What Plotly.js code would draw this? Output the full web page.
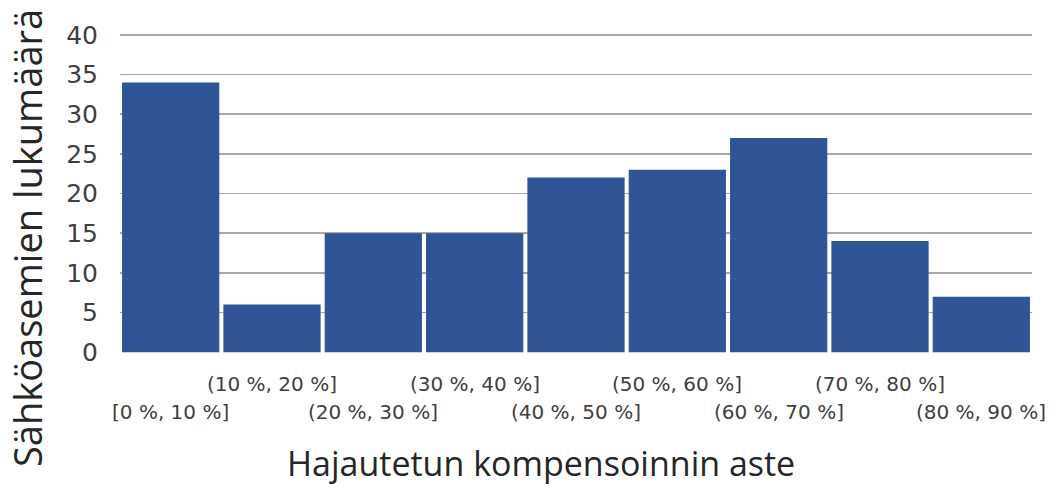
<!DOCTYPE html>
<html>
<head>
<meta charset="utf-8">
<script src="https://cdn.plot.ly/plotly-3.0.1.min.js"></script>
<style>
  html, body { margin: 0; padding: 0; background: #fff; }
  #chart { width: 1059px; height: 488px; }
</style>
</head>
<body>
<div id="chart"></div>
<script>
// Substation counts per degree of distributed compensation
const categories = ["[0 %, 10 %]", "(10 %, 20 %]", "(20 %, 30 %]", "(30 %, 40 %]", "(40 %, 50 %]",
                    "(50 %, 60 %]", "(60 %, 70 %]", "(70 %, 80 %]", "(80 %, 90 %]"];
const counts = [34, 6, 15, 15, 22, 23, 27, 14, 7];
const yTicks = [0, 5, 10, 15, 20, 25, 30, 35, 40];
const xTitle = "Hajautetun kompensoinnin aste";
const yTitle = "Sähköasemien lukumäärä";

const tickFont = { family: "DejaVu Sans, Arial, sans-serif", size: 20, color: "#404040" };

// Staggered category labels: odd bins on the upper row, even bins on the lower row
const labelAnnotations = categories.map((c, i) => ({
  x: c, xref: "x",
  y: 0, yref: "paper",
  yanchor: "top",
  yshift: i % 2 === 1 ? -17 : -45,
  text: c, showarrow: false,
  font: tickFont
}));

const trace = {
  type: "bar",
  x: categories,
  y: counts,
  marker: { color: "#2F5597" },
  hoverinfo: "x+y"
};

const layout = {
  width: 1059, height: 488,
  margin: { l: 120, r: 27, t: 30, b: 135 },
  paper_bgcolor: "#ffffff",
  plot_bgcolor: "#ffffff",
  bargap: 0.04,
  showlegend: false,
  xaxis: {
    type: "category",
    range: [-0.5, categories.length - 0.5],
    autorange: false,
    showticklabels: false,
    showgrid: false,
    zeroline: false,
    showline: false,
    ticks: ""
  },
  yaxis: {
    range: [-0.1, 40.6],
    autorange: false,
    tickvals: yTicks,
    ticktext: yTicks.map(String),
    showgrid: true,
    gridcolor: "#a9a9a9",
    gridwidth: 1.6,
    zeroline: false,
    showline: false,
    ticks: "outside",
    ticklen: 16,
    tickcolor: "rgba(0,0,0,0)",
    tickfont: { family: "DejaVu Sans, Arial, sans-serif", size: 25, color: "#404040" }
  },
  annotations: labelAnnotations.concat([
    {
      text: xTitle, showarrow: false,
      font: { family: "Open Sans, Noto Sans, sans-serif", size: 34, color: "#262626" }
    },
    {
      text: yTitle, showarrow: false, textangle: -90,
      font: { family: "Open Sans, Noto Sans, sans-serif", size: 38, color: "#262626" }
    }
  ])
};

// Titles are positioned in pixel space: convert to paper fractions
const plotW = layout.width - layout.margin.l - layout.margin.r;
const plotH = layout.height - layout.margin.t - layout.margin.b;
const nA = layout.annotations.length;
const xt = layout.annotations[nA - 2];
xt.xref = "paper"; xt.yref = "paper";
xt.x = (541 - layout.margin.l) / plotW;
xt.y = (layout.height - layout.margin.b - 463) / plotH;
xt.xanchor = "center"; xt.yanchor = "middle";
xt.borderpad = 0;
const yt = layout.annotations[nA - 1];
yt.xref = "paper"; yt.yref = "paper";
yt.x = (27 - layout.margin.l) / plotW;
yt.y = (layout.height - layout.margin.b - 238) / plotH;
yt.xanchor = "center"; yt.yanchor = "middle";
yt.borderpad = 0;

Plotly.newPlot("chart", [trace], layout, { displayModeBar: false, staticPlot: true });
</script>
</body>
</html>
